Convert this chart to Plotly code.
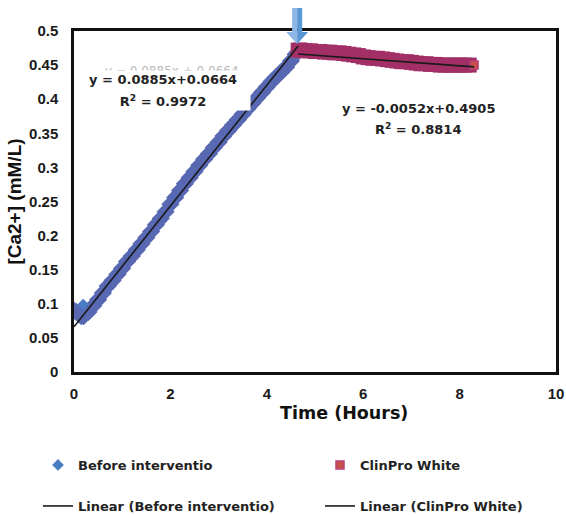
import plotly.graph_objects as go

# ---------------- data ----------------
before_t = [0.00, 0.05, 0.10, 0.15, 0.20, 0.30, 0.40, 0.50, 0.60, 0.70, 0.80, 0.90,
            1.00, 1.10, 1.20, 1.30, 1.40, 1.50, 1.60, 1.70, 1.80, 1.90, 2.00, 2.10,
            2.20, 2.30, 2.40, 2.50, 2.60, 2.70, 2.80, 2.90, 3.00, 3.10, 3.20, 3.30,
            3.40, 3.50, 3.60, 3.70, 3.80, 3.90, 4.00, 4.10, 4.20, 4.30, 4.40, 4.50, 4.60]
before_ca = [0.090, 0.088, 0.085, 0.082, 0.082, 0.088, 0.097, 0.106, 0.116, 0.126, 0.134, 0.143,
             0.152, 0.162, 0.170, 0.179, 0.188, 0.197, 0.206, 0.216, 0.225, 0.235, 0.246, 0.256,
             0.266, 0.276, 0.285, 0.294, 0.303, 0.312, 0.320, 0.329, 0.337, 0.346, 0.354, 0.362,
             0.370, 0.378, 0.386, 0.394, 0.402, 0.410, 0.418, 0.426, 0.433, 0.440, 0.447, 0.456, 0.466]
before_mark_t = [0.19]
before_mark_ca = [0.099]

clin_t = [4.65, 4.70, 4.80, 4.90, 5.00, 5.10, 5.20, 5.30, 5.40, 5.50, 5.60, 5.70, 5.80,
          5.90, 6.00, 6.10, 6.20, 6.30, 6.40, 6.50, 6.60, 6.70, 6.80, 6.90, 7.00, 7.10,
          7.20, 7.30, 7.40, 7.50, 7.60, 7.70, 7.80, 7.90, 8.00, 8.10, 8.20]
clin_ca = [0.472, 0.472, 0.471, 0.471, 0.470, 0.470, 0.469, 0.469, 0.468, 0.468, 0.467, 0.466, 0.465,
           0.464, 0.462, 0.461, 0.460, 0.460, 0.459, 0.458, 0.457, 0.456, 0.455, 0.455, 0.454, 0.453,
           0.452, 0.452, 0.451, 0.451, 0.450, 0.450, 0.450, 0.450, 0.450, 0.450, 0.450]
clin_mark_t = [8.30]
clin_mark_ca = [0.450]

trend_names = ["Linear (Before interventio)", "Linear (ClinPro White)"]
trend_slopes = [0.0885, -0.0052]
trend_intercepts = [0.0664, 0.4905]
trend_r2 = [0.9972, 0.8814]
trend_x0 = [0.0, 4.65]
trend_x1 = [4.65, 8.30]

intervention_t = 4.63

x_ticks = [0, 2, 4, 6, 8, 10]
y_ticks = [0, 0.05, 0.1, 0.15, 0.2, 0.25, 0.3, 0.35, 0.4, 0.45, 0.5]
x_title = "Time (Hours)"
y_title = "[Ca2+] (mM/L)"

# ---------------- geometry helpers (pixels -> paper) ----------------
W, H = 566, 515
ML, MR, MT, MB = 74, 10, 31, 143
PW, PH = W - ML - MR, H - MT - MB


def px(x):
    return (x - ML) / PW


def py(y):
    return (H - MB - y) / PH


# ---------------- figure ----------------
fig = go.Figure()

fig.add_trace(go.Scatter(x=before_t, y=before_ca, mode="markers", showlegend=False,
                         marker=dict(symbol="diamond", size=14, color="#5868B2",
                                     line=dict(width=0))))
fig.add_trace(go.Scatter(x=clin_t, y=clin_ca, mode="markers", showlegend=False,
                         marker=dict(symbol="square", size=15, color="#A22F66",
                                     line=dict(width=0))))
fig.add_trace(go.Scatter(x=before_mark_t, y=before_mark_ca, mode="markers",
                         name="Before interventio", legend="legend",
                         marker=dict(symbol="diamond", size=9, color="#4A7CC4",
                                     line=dict(width=0))))
fig.add_trace(go.Scatter(x=clin_mark_t, y=clin_mark_ca, mode="markers",
                         name="ClinPro White", legend="legend2",
                         marker=dict(symbol="square", size=8, color="#C8504A",
                                     line=dict(width=1.5, color="#B8407A"))))

for name, m, b, x0, x1, lg in zip(trend_names, trend_slopes, trend_intercepts, trend_x0, trend_x1,
                                  ["legend3", "legend4"]):
    fig.add_trace(go.Scatter(x=[x0, x1], y=[m * x0 + b, m * x1 + b], mode="lines",
                             name=name, legend=lg,
                             line=dict(color="#1a1a1a", width=1.6)))

# equations
ann_font = dict(family="DejaVu Sans", size=13, color="#222222", weight="bold")
eq_pos = [(163, 79, 101), (418, 108, 129)]
annotations = []
# faint ghost of the first equation behind it
annotations.append(dict(xref="paper", yref="paper", x=px(172), y=py(71),
                        xanchor="center", yanchor="middle",
                        text=f"y = {trend_slopes[0]}x + {trend_intercepts[0]}",
                        showarrow=False, font=dict(family="DejaVu Sans", size=12, color="#b8b8b8")))
for i, (cx, y1, y2) in enumerate(eq_pos):
    s = trend_slopes[i]
    b = trend_intercepts[i]
    a1 = dict(xref="paper", yref="paper", x=px(cx), y=py(y1), xanchor="center", yanchor="middle",
              text=f"y = {s}x+{b}", showarrow=False, font=ann_font, borderpad=1)
    a2 = dict(xref="paper", yref="paper", x=px(cx), y=py(y2), xanchor="center", yanchor="middle",
              text=f"R<sup>2</sup> = {trend_r2[i]}", showarrow=False, font=ann_font, borderpad=1)
    if i == 0:
        a1["bgcolor"] = "white"
        a2["bgcolor"] = "white"
        a2["width"] = 172
    annotations += [a1, a2]

# x-axis title (offset to the right of centre, as in the reference)
annotations.append(dict(xref="paper", yref="paper", x=px(344), y=py(413),
                        xanchor="center", yanchor="middle", text=x_title, showarrow=False,
                        font=dict(family="DejaVu Sans", size=17.5, color="#111111", weight="bold")))

# intervention arrow (block arrow above the plot)
xp = intervention_t / 10.0
sw, hw = 5 / PW, 11 / PW
ytop, yshaft, ytip = py(8), py(32), py(44)
left = f"M {xp - sw} {ytop} L {xp} {ytop} L {xp} {ytip} L {xp - hw} {yshaft} L {xp - sw} {yshaft} Z"
right = f"M {xp + sw} {ytop} L {xp} {ytop} L {xp} {ytip} L {xp + hw} {yshaft} L {xp + sw} {yshaft} Z"
shapes = [
    dict(type="path", xref="paper", yref="paper", path=left, fillcolor="#8DB6E6",
         line=dict(width=0), layer="above"),
    dict(type="path", xref="paper", yref="paper", path=right, fillcolor="#5A97D6",
         line=dict(width=0), layer="above"),
]

tick_font = dict(family="Liberation Sans, Arial", size=15, color="#1a1a1a", weight="bold")
leg_font = dict(family="DejaVu Sans", size=13, color="#222222", weight="bold")


def leg(xpix, ypix):
    return dict(orientation="h", x=px(xpix), y=py(ypix), xanchor="left", yanchor="middle",
                font=leg_font, bgcolor="rgba(0,0,0,0)", borderwidth=0)


fig.update_layout(
    width=W, height=H,
    margin=dict(l=ML, r=MR, t=MT, b=MB, autoexpand=False),
    paper_bgcolor="white", plot_bgcolor="white",
    xaxis=dict(range=[0, 10], tickvals=x_ticks, ticks="", showgrid=False, zeroline=False,
               showline=True, linecolor="#111111", linewidth=2.5, mirror=True, automargin=False,
               tickfont=tick_font, ticklabelstandoff=6),
    yaxis=dict(range=[0, 0.5], tickvals=y_ticks, ticks="", showgrid=False, zeroline=False,
               showline=True, linecolor="#111111", linewidth=2.5, mirror=True, automargin=False,
               tickfont=tick_font, ticklabelstandoff=10,
               title=dict(text=y_title, standoff=3,
                          font=dict(family="Liberation Sans, Arial", size=19, color="#111111",
                                    weight="bold"))),
    legend=leg(38, 465),
    legend2=leg(320, 465),
    legend3=leg(38, 506),
    legend4=leg(320, 506),
    annotations=annotations,
    shapes=shapes,
)

fig.write_html("out.html")
